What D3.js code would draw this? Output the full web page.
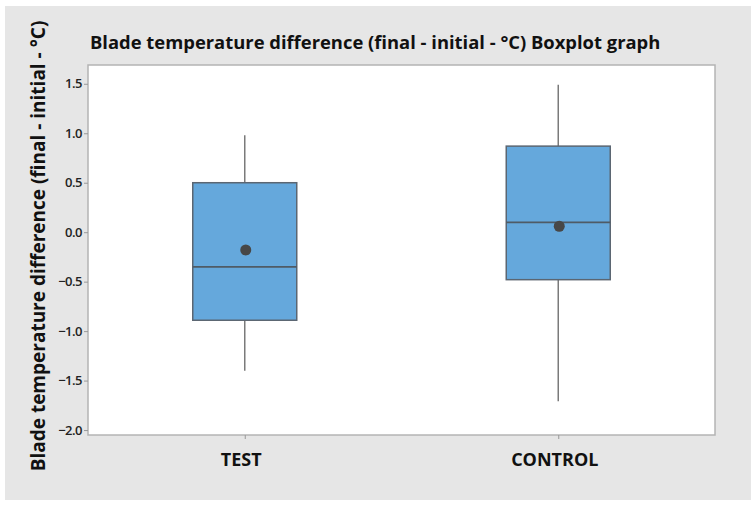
<!DOCTYPE html>
<html lang="en">
<head>
<meta charset="utf-8">
<title>Blade temperature boxplot</title>
<script src="https://d3js.org/d3.v7.min.js"></script>
<style>
  body { margin: 0; background: #fff; }
  text { font-family: "Open Sans", "Noto Sans", sans-serif; }
</style>
</head>
<body>
<script>
// data
var groups = ["TEST", "CONTROL"];
var q1 = [-0.89, -0.48];
var medians = [-0.35, 0.10];
var q3 = [0.50, 0.87];
var whiskerLow = [-1.40, -1.71];
var whiskerHigh = [0.98, 1.49];
var means = [-0.18, 0.06];
var yTicks = [1.5, 1.0, 0.5, 0.0, -0.5, -1.0, -1.5, -2.0];

var W = 756, H = 507;
var plot = {left: 88, top: 65, right: 715, bottom: 435};

var svg = d3.select("body").append("svg")
    .attr("width", W)
    .attr("height", H);

// grey panel
svg.append("rect")
    .attr("x", 5).attr("y", 6)
    .attr("width", 746).attr("height", 494)
    .attr("fill", "#e6e6e6");

// plot area
svg.append("rect")
    .attr("x", plot.left).attr("y", plot.top)
    .attr("width", plot.right - plot.left)
    .attr("height", plot.bottom - plot.top)
    .attr("fill", "#fff")
    .attr("stroke", "#b4b4b4")
    .attr("stroke-width", 1.5);

var x = d3.scalePoint().domain(groups).range([plot.left, plot.right]).padding(0.5);
var y = d3.scaleLinear().domain([-2.05, 1.69]).range([plot.bottom, plot.top]);
var boxW = 104;

// y axis
var yAxis = d3.axisLeft(y).tickValues(yTicks).tickSize(4).tickPadding(2)
    .tickFormat(function(d) { return d3.format(".1f")(d).replace("-", "\u2212"); });
var gy = svg.append("g")
    .attr("transform", "translate(" + plot.left + ",0)")
    .call(yAxis);
gy.select(".domain").remove();
gy.selectAll(".tick line").attr("stroke", "#999");
gy.selectAll(".tick text").attr("fill", "#222").style("font-size", "13px").style("font-weight", 600)
    .style("letter-spacing", "-0.5px");

// x axis
var xAxis = d3.axisBottom(x).tickSize(4).tickPadding(14);
var gx = svg.append("g")
    .attr("transform", "translate(0," + plot.bottom + ")")
    .call(xAxis);
gx.select(".domain").remove();
gx.selectAll(".tick line").attr("stroke", "#999");
gx.selectAll(".tick text").attr("fill", "#111").style("font-size", "18px").style("font-weight", 700)
    .attr("dx", "-4px");

// boxes
var data = groups.map(function(g, i) {
    return {g: g, q1: q1[i], med: medians[i], q3: q3[i], lo: whiskerLow[i], hi: whiskerHigh[i], mean: means[i]};
});

var box = svg.selectAll(".box").data(data).enter().append("g").attr("class", "box");

box.append("line")
    .attr("x1", function(d) { return x(d.g); })
    .attr("x2", function(d) { return x(d.g); })
    .attr("y1", function(d) { return y(d.hi); })
    .attr("y2", function(d) { return y(d.q3); })
    .attr("stroke", "#7a7a7a").attr("stroke-width", 1.5);

box.append("line")
    .attr("x1", function(d) { return x(d.g); })
    .attr("x2", function(d) { return x(d.g); })
    .attr("y1", function(d) { return y(d.q1); })
    .attr("y2", function(d) { return y(d.lo); })
    .attr("stroke", "#7a7a7a").attr("stroke-width", 1.5);

box.append("rect")
    .attr("x", function(d) { return x(d.g) - boxW / 2; })
    .attr("y", function(d) { return y(d.q3); })
    .attr("width", boxW)
    .attr("height", function(d) { return y(d.q1) - y(d.q3); })
    .attr("fill", "#65a8dc")
    .attr("stroke", "#5b6672").attr("stroke-width", 1.5);

box.append("line")
    .attr("x1", function(d) { return x(d.g) - boxW / 2; })
    .attr("x2", function(d) { return x(d.g) + boxW / 2; })
    .attr("y1", function(d) { return y(d.med); })
    .attr("y2", function(d) { return y(d.med); })
    .attr("stroke", "#4f5b66").attr("stroke-width", 1.8);

box.append("circle")
    .attr("cx", function(d) { return x(d.g) + 1; })
    .attr("cy", function(d) { return y(d.mean); })
    .attr("r", 5.5)
    .attr("fill", "#474747");

// title
svg.append("text")
    .attr("x", 90).attr("y", 49)
    .attr("fill", "#111")
    .style("font-size", "18.4px").style("font-weight", 700)
    .text("Blade temperature difference (final - initial - \u00b0C) Boxplot graph");

// y label
svg.append("text")
    .attr("transform", "translate(45,246) rotate(-90)")
    .attr("text-anchor", "middle")
    .attr("fill", "#111")
    .style("font-size", "19px").style("font-weight", 700)
    .text("Blade temperature difference (final - initial - \u00b0C)");
</script>
</body>
</html>
